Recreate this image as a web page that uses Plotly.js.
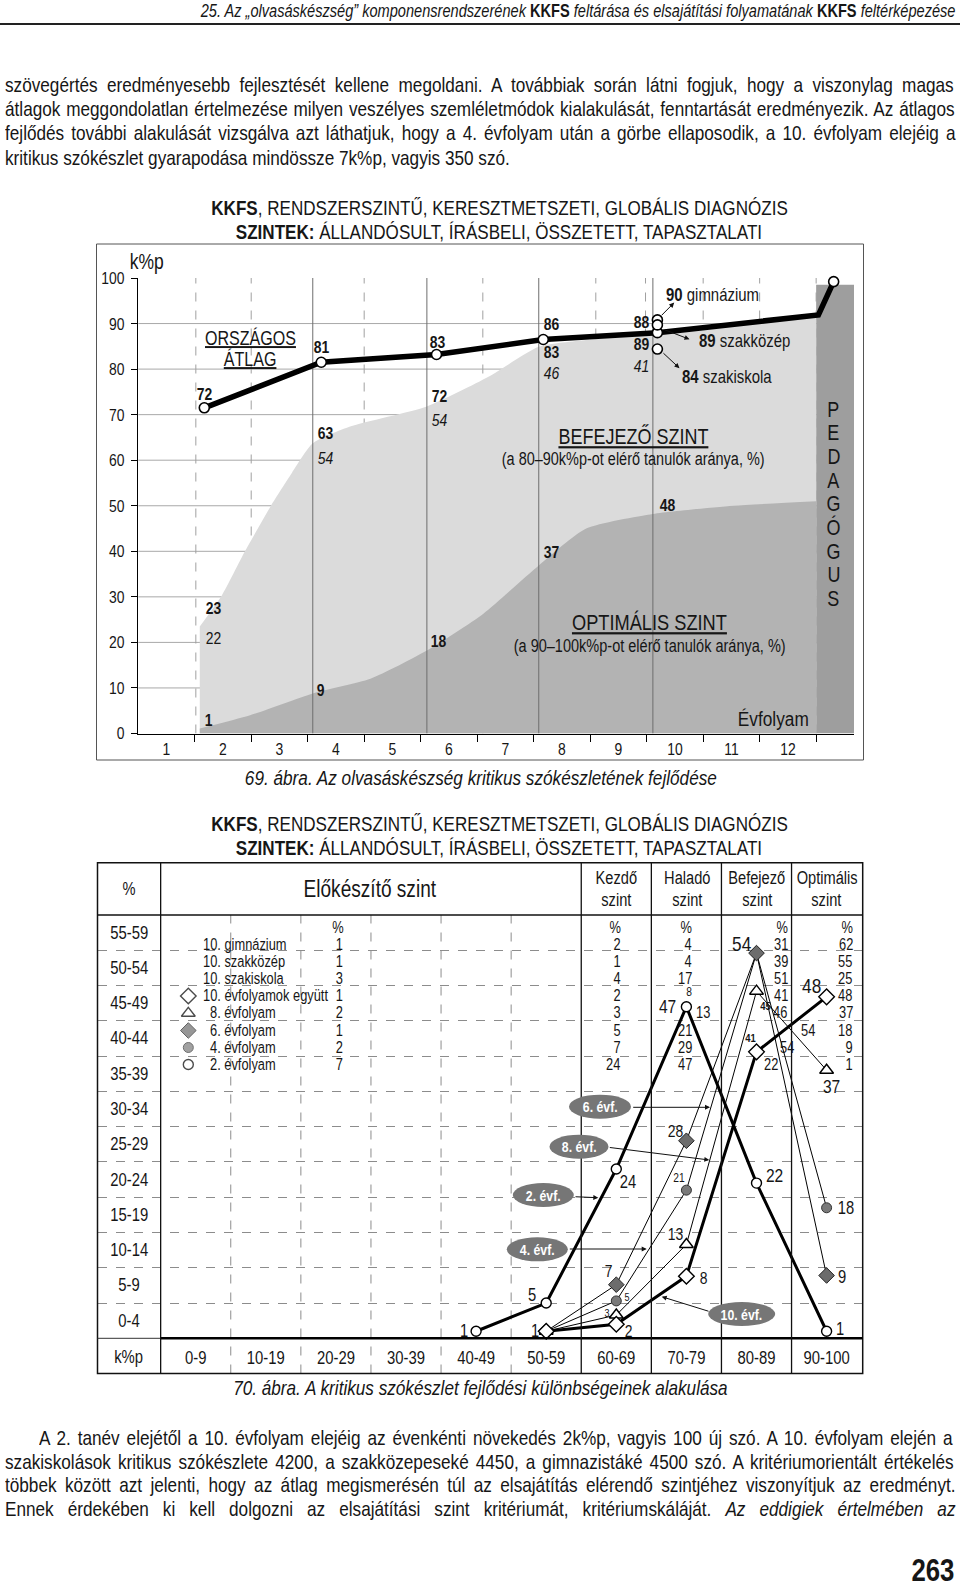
<!DOCTYPE html>
<html lang="hu"><head><meta charset="utf-8">
<script src="https://cdn.plot.ly/plotly-3.0.1.min.js"></script>
<style>
html,body{margin:0;padding:0;background:#fff;}
#page{position:relative;width:960px;height:1593px;overflow:hidden;background:#fff;}
#plot{position:absolute;left:0;top:0;width:960px;height:1593px;}
.t{position:absolute;white-space:nowrap;color:#161616;}
</style></head><body>
<div id="page"><div id="plot"></div></div>
<script>
// ================= DATA =================
// Chart 1 (69. ábra)
const gradeTicks = [1,2,3,4,5,6,7,8,9,10,11,12];
const gradeLabels = ['1','2','3','4','5','6','7','8','9','10','11','12'];
const yTicks1 = [0,10,20,30,40,50,60,70,80,90,100];
const avgX = [1.67, 3.74, 5.78, 7.67, 9.69, 12.54, 12.81];
const avgY = [71.5, 81.5, 83.2, 86.5, 88.0, 91.9, 99.2];
const avgHasMarker = [true, true, true, true, true, false, true];
const schoolX = [9.69, 9.69, 9.69];
const schoolY = [90.8, 89.7, 84.4];
const schoolVals = ['90', '89', '84'];
const schoolNames = ['gimnázium', 'szakközép', 'szakiskola'];
const befX = [1.59, 1.98, 2.39, 2.85, 3.22, 3.59, 4.25, 5.61, 6.70, 7.59, 8.43, 9.61, 11.03, 12.5];
const befY = [23.5, 30.3, 40, 50, 57.2, 63.7, 67.4, 71.8, 78.3, 84.9, 86.4, 87.6, 89.6, 91.5];
const optX = [1.59, 2.48, 3.59, 4.61, 5.61, 6.61, 7.59, 8.43, 9.61, 11.04, 12.5];
const optY = [1.1, 4.0, 8.8, 12.0, 18.2, 26.3, 36.9, 45.0, 48.2, 50.0, 51.0];
const pedX = [12.5, 13.17];
const pedY = [98.5, 98.5];
const pedLetters = ['P','E','D','A','G','Ó','G','U','S'];

// Chart 2 (70. ábra)
const bins = ['0-9','10-19','20-29','30-39','40-49','50-59','60-69','70-79','80-89','90-100'];
const rowLabels = ['0-4','5-9','10-14','15-19','20-24','25-29','30-34','35-39','40-44','45-49','50-54','55-59'];
const ev2X = [4,5,6,7,8,9];   const ev2Y = [1,5,24,47,22,1];     const ev2Lab = ['1','5','24','47','22','1'];
const ev4X = [5,6,7,8,9];     const ev4Y = [1,5.3,21,54.6,18.5];  const ev4Lab = ['','5','21','','18'];
const ev6X = [5,6,7,8,9];     const ev6Y = [1,7.6,28,54.6,8.9];   const ev6Lab = ['','7','28','54','9'];
const ev8X = [5,6,7,8,9];     const ev8Y = [1,3.3,13.3,49.2,38];  const ev8Lab = ['1','3','13','45','37'];
const ev10X = [5,6,7,8,9];    const ev10Y = [1,2,8.8,40.6,48.4];  const ev10Lab = ['','2','8','41','48'];
const tblRows = ['10. gimnázium','10. szakközép','10. szakiskola','10. évfolyamok együtt','8. évfolyam','6. évfolyam','4. évfolyam','2. évfolyam'];
const tblElo = [1,1,3,1,2,1,2,7];
const tblKezdo = [2,1,4,2,3,5,7,24];
const tblHalado = [4,4,17,8,13,21,29,47];
const tblBefejezo = [31,39,51,41,46,54,54,22];
const tblOptimalis = [62,55,25,48,37,18,9,1];
const levelHeads = [['Kezdő','szint'],['Haladó','szint'],['Befejező','szint'],['Optimális','szint']];

// ================= HELPERS =================
const W=960,H=1593;
const FONT="'Liberation Sans',Arial,sans-serif";
const SX=0.82; // horizontal condensing (narrow face emulation)
const cv=document.createElement('canvas').getContext('2d');
function mw(parts,size){let w=0;for(const p of parts){const t=p[0],b=p[1],i=p[2];cv.font=(i?'italic ':'')+(b?'bold ':'')+size+'px '+FONT;w+=cv.measureText(t).width;}return w*SX;}
function fit(parts,target){return 100*target/mw(parts,100);}
const P=x=>x/W, Q=y=>1-y/H;
const page=document.getElementById('page');

// ---------- HTML page text ----------
function line(parts,x,yc,size,targetW,align){
  const d=document.createElement('div');d.className='t';
  const L=0.72*size;
  d.style.fontFamily=FONT;d.style.fontSize=size+'px';d.style.lineHeight=L+'px';d.style.height=L+'px';
  d.style.top=(yc-L/2+0.0115*size)+'px';
  let html='',nsp=0;
  parts.forEach(p=>{html+='<span style="font-weight:'+(p[1]?'bold':'normal')+';font-style:'+(p[2]?'italic':'normal')+'">'+p[0]+'</span>';nsp+=(p[0].match(/ /g)||[]).length;});
  d.innerHTML=html;
  if(align==='right'){d.style.right=(W-x)+'px';d.style.transformOrigin='right center';}
  else {d.style.left=x+'px';d.style.transformOrigin='left center';}
  d.style.transform='scaleX('+SX+')';
  if(targetW){const w=mw(parts,size);d.style.wordSpacing=((targetW-w)/nsp/SX)+'px';}
  page.appendChild(d);
}
const topPara=[
 [['szövegértés eredményesebb fejlesztését kellene megoldani. A továbbiak során látni fogjuk, hogy a viszonylag magas']],
 [['átlagok meggondolatlan értelmezése milyen veszélyes szemléletmódok kialakulását, fenntartását eredményezik. Az átlagos']],
 [['fejlődés további alakulását vizsgálva azt láthatjuk, hogy a 4. évfolyam után a görbe ellaposodik, a 10. évfolyam elejéig a']],
 [['kritikus szókészlet gyarapodása mindössze 7k%p, vagyis 350 szó.']]
];
const botPara=[
 [['A 2. tanév elejétől a 10. évfolyam elejéig az évenkénti növekedés 2k%p, vagyis 100 új szó. A 10. évfolyam elején a']],
 [['szakiskolások kritikus szókészlete 4200, a szakközepeseké 4450, a gimnazistáké 4500 szó. A kritériumorientált értékelés']],
 [['többek között azt jelenti, hogy az átlag megismerésén túl az elsajátítás elérendő szintjéhez viszonyítjuk az eredményt.']],
 [['Ennek érdekében ki kell dolgozni az elsajátítási szint kritériumát, kritériumskáláját. '],['Az eddigiek értelmében az',0,1]]
];
const bodySize=fit(topPara[3],505);
const topY=[84,108.3,132.5,157];
topPara.forEach((p,k)=>line(p,4.5,topY[k],bodySize,k<3?950.5:null));
const botY=[1437.6,1461,1484.6,1508.7];
botPara.forEach((p,k)=>line(p,k===0?38.6:4.5,botY[k],bodySize,k===0?916.4:950.5));
const headParts=[['25. Az „olvasáskészség” komponensrendszerének ',0,1],['KKFS',1,0],[' feltárása és elsajátítási folyamatának ',0,1],['KKFS',1,0],[' feltérképezése',0,1]];
line(headParts,955.5,11,fit(headParts,756),null,'right');
line([['263',1,0]],954.5,1571,fit([['263',1,0]],43),null,'right');
const rule=document.createElement('div');rule.style.cssText='position:absolute;left:0;top:23px;width:960px;height:2px;background:#222;';
page.appendChild(rule);

// ================= PLOTLY =================
const traces=[];
const A=[];
const S=[];
function al(o){return (o&&o.xanchor)||'center';}
function pa(text,xpx,ypx,size,o){o=o||{};A.push(Object.assign({xref:'paper',yref:'paper',x:P(xpx),y:Q(ypx),text,showarrow:false,xanchor:'center',align:al(o),yanchor:'middle',font:{family:FONT,size,color:'#161616'}},o));}
function da(text,x,y,size,xr,yr,o){o=o||{};A.push(Object.assign({xref:xr,yref:yr,x,y,text,showarrow:false,xanchor:'center',align:al(o),yanchor:'middle',font:{family:FONT,size,color:'#161616'}},o));}

// ---- titles & captions ----
const t1=[['KKFS',1,0],[', RENDSZERSZINTŰ, KERESZTMETSZETI, GLOBÁLIS DIAGNÓZIS',0,0]];
const tSize=fit(t1,577);
const tLine1='<b>KKFS</b>, RENDSZERSZINTŰ, KERESZTMETSZETI, GLOBÁLIS DIAGNÓZIS';
const tLine2='<b>SZINTEK:</b> ÁLLANDÓSULT, ÍRÁSBELI, ÖSSZETETT, TAPASZTALATI';
[[207.5,231.6],[824,847.3]].forEach(([a,b])=>{pa(tLine1,499.7,a,tSize);pa(tLine2,499.4,b,tSize);});
const cap1='69. ábra. Az olvasáskészség kritikus szókészletének fejlődése';
const cap2='70. ábra. A kritikus szókészlet fejlődési különbségeinek alakulása';
pa('<i>'+cap1+'</i>',480.5,777,fit([[cap1,0,1]],473));
pa('<i>'+cap2+'</i>',480.5,1387,fit([[cap2,0,1]],496));

// ---- Chart 1 ----
const ax1={xaxis:'x',yaxis:'y',hoverinfo:'skip',showlegend:false,cliponaxis:false};
traces.push(Object.assign({x:pedX,y:pedY,type:'scatter',mode:'lines',fill:'tozeroy',fillcolor:'#9e9e9e',line:{width:0}},ax1));
traces.push(Object.assign({x:befX,y:befY,type:'scatter',mode:'lines',fill:'tozeroy',fillcolor:'#dbdbdb',line:{width:0,shape:'spline',smoothing:0.6}},ax1));
traces.push(Object.assign({x:optX,y:optY,type:'scatter',mode:'lines',fill:'tozeroy',fillcolor:'#b3b3b3',line:{width:0,shape:'spline',smoothing:0.6}},ax1));
const solidV1=[3.59,5.61,7.59,9.61];
const gx=[],gy=[];solidV1.forEach(v=>{gx.push(v,v,null);gy.push(0,100,null);});
traces.push(Object.assign({x:gx,y:gy,type:'scatter',mode:'lines',line:{color:'#6e6e6e',width:1}},ax1));
traces.push(Object.assign({x:avgX,y:avgY,type:'scatter',mode:'lines',line:{color:'#000',width:5.5}},ax1));
const mx=avgX.filter((v,i)=>avgHasMarker[i]), my=avgY.filter((v,i)=>avgHasMarker[i]);
traces.push(Object.assign({x:mx.concat(schoolX),y:my.concat(schoolY),type:'scatter',mode:'markers',marker:{symbol:'circle',size:10,color:'#fff',line:{color:'#000',width:1.6}}},ax1));

yTicks1.filter(v=>v>0&&v<100).forEach(v=>S.push({type:'line',xref:'x',yref:'y',x0:0.5,x1:13.17,y0:v,y1:v,layer:'below',line:{color:'#a8a8a8',width:1}}));
const dashV1=[1.52,2.5,4.5,6.6,8.6,9.48,10.5,11.5,12.5];
dashV1.forEach(v=>S.push({type:'line',xref:'x',yref:'y',x0:v,x1:v,y0:0,y1:100,layer:'below',line:{color:'#a0a0a0',width:1,dash:'dash'}}));
S.push({type:'rect',xref:'paper',yref:'paper',x0:P(96.5),x1:P(863.5),y0:Q(760),y1:Q(244),line:{color:'#555',width:1}});

const c1Txt=[
 ['<b>72</b>',1.67,74.4],['<b>81</b>',3.74,84.7],['<b>83</b>',5.80,85.8],['<b>86</b>',7.82,89.9],
 ['<b>83</b>',7.82,83.6],['<i>46</i>',7.82,79.1],['<b>88</b>',9.40,90.2],['<b>89</b>',9.40,85.5],
 ['<i>41</i>',9.40,80.5],['<b>72</b>',5.83,73.9],['<i>54</i>',5.83,68.8],['<b>63</b>',3.82,65.9],
 ['<i>54</i>',3.82,60.4],['<b>48</b>',9.87,50.1],['<b>23</b>',1.83,27.4],['22',1.83,20.9],
 ['<b>9</b>',3.72,9.5],['<b>18</b>',5.81,20.3],['<b>37</b>',7.81,39.8],['<b>1</b>',1.74,2.9]
];
c1Txt.forEach(([t,x,y])=>da(t,x,y,17,'x','y'));
const schoolLabPos=[[9.80,96.3],[10.39,86.2],[10.09,78.3]];
const sSize=fit([['90',1,0],[' gimnázium',0,0]],93);
schoolVals.forEach((v,k)=>da('<b>'+v+'</b> '+schoolNames[k],schoolLabPos[k][0],schoolLabPos[k][1],sSize,'x','y',{xanchor:'left'}));
const arrows1=[[9.988,94.6,9.740,91.5],[10.258,86.54,9.798,88.74],[10.081,80.2,9.770,83.8]];
arrows1.forEach(([hx,hy,tx,ty])=>A.push({xref:'x',yref:'y',axref:'x',ayref:'y',x:hx,y:hy,ax:tx,ay:ty,text:'',showarrow:true,arrowhead:2,arrowsize:1,arrowwidth:1,arrowcolor:'#111'}));
const bigSize=fit([['BEFEJEZŐ SZINT',0,0]],150);
da('<u>ORSZÁGOS</u>',2.48,86.9,fit([['ORSZÁGOS',0,0]],91),'x','y');
da('<u>ÁTLAG</u>',2.48,82.2,fit([['ORSZÁGOS',0,0]],91),'x','y');
da('<u>BEFEJEZŐ SZINT</u>',9.26,65.2,bigSize,'x','y');
const sub1='(a 80–90k%p-ot elérő tanulók aránya, %)', sub2='(a 90–100k%p-ot elérő tanulók aránya, %)';
da(sub1,9.26,60.2,fit([[sub1,0,0]],263),'x','y');
da('<u>OPTIMÁLIS SZINT</u>',9.55,24.3,fit([['OPTIMÁLIS SZINT',0,0]],155),'x','y');
da(sub2,9.55,19.3,fit([[sub2,0,0]],272),'x','y');
da('Évfolyam',11.74,3.3,fit([['Évfolyam',0,0]],71),'x','y');
pa('k%p',146.6,262,fit([['k%p',0,0]],34));
pedLetters.forEach((L,k)=>da(L,12.81,71.2-k*5.2,bigSize,'x','y'));

// ---- Chart 2 ----
const X2=px=>(px-195.7)/70.1, Y2=py=>(1338.3-py)/7.055;
const ax2={xaxis:'x2',yaxis:'y2',hoverinfo:'skip',showlegend:false,cliponaxis:false};
const series=[
 {x:ev4X,y:ev4Y,lab:ev4Lab,w:1,m:{symbol:'circle',size:10,color:'#7a7a7a',line:{color:'#333',width:1}}},
 {x:ev6X,y:ev6Y,lab:ev6Lab,w:1,m:{symbol:'diamond',size:12,color:'#6c6c6c',line:{color:'#222',width:1}}},
 {x:ev8X,y:ev8Y,lab:ev8Lab,w:1,m:{symbol:'triangle-up',size:12,color:'#fff',line:{color:'#000',width:1.4}}},
 {x:ev10X,y:ev10Y,lab:ev10Lab,w:3,m:{symbol:'diamond',size:12,color:'#fff',line:{color:'#000',width:1.4}}},
 {x:ev2X,y:ev2Y,lab:ev2Lab,w:3,m:{symbol:'circle',size:10,color:'#fff',line:{color:'#000',width:1.4}}}
];
series.forEach(s=>traces.push(Object.assign({x:s.x,y:s.y,type:'scatter',mode:'lines',line:{color:'#000',width:s.w}},ax2)));
series.forEach(s=>traces.push(Object.assign({x:s.x,y:s.y,type:'scatter',mode:'markers',marker:s.m},ax2)));
const labOff=[
 [[0,0,0],[11,4,11],[-7,12,12.5],[0,0,0],[19,0,18]],
 [[0,0,0],[-8,13,17],[-11,9,17],[-15,10,21],[15,-1,18]],
 [[-11,0,18],[-9,2,11],[-11,10,17],[9,-15,11.5,1],[5,-16,19]],
 [[0,0,0],[12,-7,17],[17,-2,17],[-6,14,11.5,1],[-15,11,21]],
 [[-12,0,18],[-14,8,18],[12,-13,18],[-19,0,19],[18,8,19],[13,2,18]]
];
series.forEach((s,si)=>s.lab.forEach((t,k)=>{if(!t)return;const o=labOff[si][k];
  da(o[3]?'<b>'+t+'</b>':t,s.x[k],s.y[k],o[2],'x2','y2',{xshift:o[0],yshift:o[1]});}));
const legY=[996,1013.3,1030.5,1047.5,1064.5];
const legM=[series[3].m,series[2].m,series[1].m,series[0].m,series[4].m];
traces.push(Object.assign({x:legY.map(()=>X2(188.3)),y:legY.map(Y2),type:'scatter',mode:'markers',
  marker:{symbol:legM.map(m=>m.symbol),size:legM.map(m=>m.size),color:legM.map(m=>m.color),line:{color:legM.map(m=>m.line.color),width:legM.map(m=>m.line.width)}}},ax2));
const tSz=fit([['10. évfolyamok együtt',0,0]],125);
const rowY=k=>944.3+k*17.17;
tblRows.forEach((r,k)=>pa(r,k<4?200.6:207.5,rowY(k),tSz,{xanchor:'left'}));
pa('%',338.3,927.5,tSz);
[623.3,694.3,790,855].forEach(x=>pa('%',x,927.5,tSz,{xanchor:'right'}));
tblElo.forEach((v,k)=>pa(String(v),339.3,rowY(k),tSz));
tblKezdo.forEach((v,k)=>pa(String(v),623.3,rowY(k),tSz,{xanchor:'right'}));
tblHalado.forEach((v,k)=>{
  if(k===3){pa(String(v),694.3,rowY(k)-4,tSz*0.8,{xanchor:'right'});}
  else if(k===4){pa(String(v),693.5,rowY(k),tSz,{xanchor:'left'});}
  else pa(String(v),694.3,rowY(k),tSz,{xanchor:'right'});});
tblBefejezo.forEach((v,k)=>{
  if(k===5){pa(String(v),798.5,rowY(k),tSz,{xanchor:'left'});}
  else if(k===6){pa(String(v),797,rowY(k),tSz,{xanchor:'right'});}
  else if(k===7){pa(String(v),780,rowY(k),tSz,{xanchor:'right'});}
  else pa(String(v),790,rowY(k),tSz,{xanchor:'right'});});
tblOptimalis.forEach((v,k)=>pa(String(v),855,rowY(k),tSz,{xanchor:'right'}));
const hSz=fit([['Optimális',0,0]],61);
const headX=[616.6,687.8,757,826.8];
levelHeads.forEach((h,k)=>{pa(h[0],headX[k],878,hSz);pa(h[1],headX[k],899.5,hSz);});
pa('%',129.4,889,hSz);
pa('Előkészítő szint',370,889,fit([['Előkészítő szint',0,0]],132.6));
const rSz=fit([['55-59',0,0]],38);
rowLabels.forEach((r,k)=>pa(r,129.4,1338.3-(k+0.5)*35.275,rSz));
pa('k%p',128.4,1356.7,rSz);
S.push({type:'rect',xref:'paper',yref:'paper',x0:P(97.5),x1:P(862.7),y0:Q(1373.5),y1:Q(862.7),line:{color:'#111',width:1.5}});
S.push({type:'line',xref:'paper',yref:'paper',x0:P(97.5),x1:P(862.7),y0:Q(915),y1:Q(915),line:{color:'#111',width:1.5}});
S.push({type:'line',xref:'paper',yref:'paper',x0:P(160.3),x1:P(862.7),y0:Q(1338.3),y1:Q(1338.3),line:{color:'#000',width:2.6}});
S.push({type:'line',xref:'paper',yref:'paper',x0:P(97.5),x1:P(160.3),y0:Q(1338.3),y1:Q(1338.3),line:{color:'#333',width:1}});
[-0.5,5.5,6.5,7.5,8.5].forEach(v=>S.push({type:'line',xref:'x2',yref:'paper',x0:v,x1:v,y0:Q(1373.5),y1:Q(862.7),line:{color:'#111',width:1.3}}));
[0.5,1.5,2.5,3.5,4.5].forEach(v=>S.push({type:'line',xref:'x2',yref:'paper',x0:v,x1:v,y0:Q(1373.5),y1:Q(915),layer:'below',line:{color:'#8c8c8c',width:1,dash:'dash'}}));
const bubbles=[
 ['6. évf.',600,1106.7,62,710,1107.3,631.7,1107.3],
 ['8. évf.',579,1146.7,59,709.3,1160,608.3,1147.3],
 ['2. évf.',543.3,1195,61,598.3,1197.7,574,1196.7],
 ['4. évf.',537.3,1249.3,61,646.7,1249,568.3,1249],
 ['10. évf.',741.7,1314,67,661.7,1296.7,710,1311.7]
];
bubbles.forEach(([t,cx,cy,w,hx,hy,tx,ty])=>{
  S.push({type:'circle',xref:'paper',yref:'paper',x0:P(cx-w/2),x1:P(cx+w/2),y0:Q(cy+12),y1:Q(cy-12),fillcolor:'#767676',line:{width:0},layer:'above'});
  A.push({xref:'paper',yref:'paper',x:P(hx),y:Q(hy),ax:tx-hx,ay:ty-hy,text:'',showarrow:true,arrowhead:2,arrowsize:1,arrowwidth:1,arrowcolor:'#111'});
  pa('<b>'+t+'</b>',cx,cy,15,{font:{family:FONT,size:15,color:'#fff'}});
});

const layout={
  width:W,height:H,margin:{l:0,r:0,t:0,b:0},paper_bgcolor:'rgba(0,0,0,0)',plot_bgcolor:'rgba(0,0,0,0)',
  showlegend:false,hovermode:false,font:{family:FONT,color:'#161616'},
  xaxis:{domain:[138.2/W,854/W],range:[0.5,13.17],anchor:'y',tickmode:'array',tickvals:gradeTicks,ticktext:gradeLabels,
    ticks:'',showgrid:false,zeroline:false,showline:true,linecolor:'#000',linewidth:1.5,tickfont:{family:FONT,size:17,color:'#161616'},
    minor:{tickmode:'array',tickvals:gradeTicks.map(v=>v+0.5),ticks:'outside',ticklen:7,tickcolor:'#000',tickwidth:1,showgrid:false}},
  yaxis:{domain:[Q(733.5),Q(278)],range:[0,100],anchor:'x',tickmode:'array',tickvals:yTicks1,ticks:'outside',ticklen:6,tickcolor:'#000',
    showline:true,linecolor:'#000',linewidth:1.2,showgrid:false,zeroline:false,ticklabelstandoff:3,
    tickfont:{family:FONT,size:17,color:'#161616'}},
  xaxis2:{domain:[97.5/W,862.7/W],range:[-1.401,9.515],anchor:'y2',tickmode:'array',tickvals:bins.map((b,i)=>i),ticktext:bins,
    ticks:'',showgrid:false,zeroline:false,showline:false,ticklabelstandoff:7,tickfont:{family:FONT,size:rSz,color:'#161616'}},
  yaxis2:{domain:[Q(1338.3),Q(915)],range:[0,60],anchor:'x2',tickmode:'linear',tick0:0,dtick:5,showticklabels:false,ticks:'',
    showgrid:true,gridcolor:'#8c8c8c',griddash:'dash',gridwidth:1,zeroline:false,showline:false},
  shapes:S,annotations:A
};

function condense(gd){
  try{
    gd.querySelectorAll('svg text').forEach(t=>{
      if(t.parentNode && t.parentNode.getAttribute && t.parentNode.getAttribute('data-cond'))return;
      const x=parseFloat(t.getAttribute('x'))||0;
      const tr=t.getAttribute('transform')||'';
      let tx=0;const m=tr.match(/translate\(\s*(-?[\d.eE+-]+)/);if(m)tx=parseFloat(m[1]);
      const X=x+tx;
      const g=document.createElementNS('http://www.w3.org/2000/svg','g');
      g.setAttribute('data-cond','1');
      g.setAttribute('transform','translate('+X+',0) scale('+SX+',1) translate('+(-X)+',0)');
      t.parentNode.insertBefore(g,t);g.appendChild(t);
    });
  }catch(e){}
}
Plotly.newPlot('plot',traces,layout,{staticPlot:true,displayModeBar:false}).then(gd=>condense(gd));
</script></body></html>
